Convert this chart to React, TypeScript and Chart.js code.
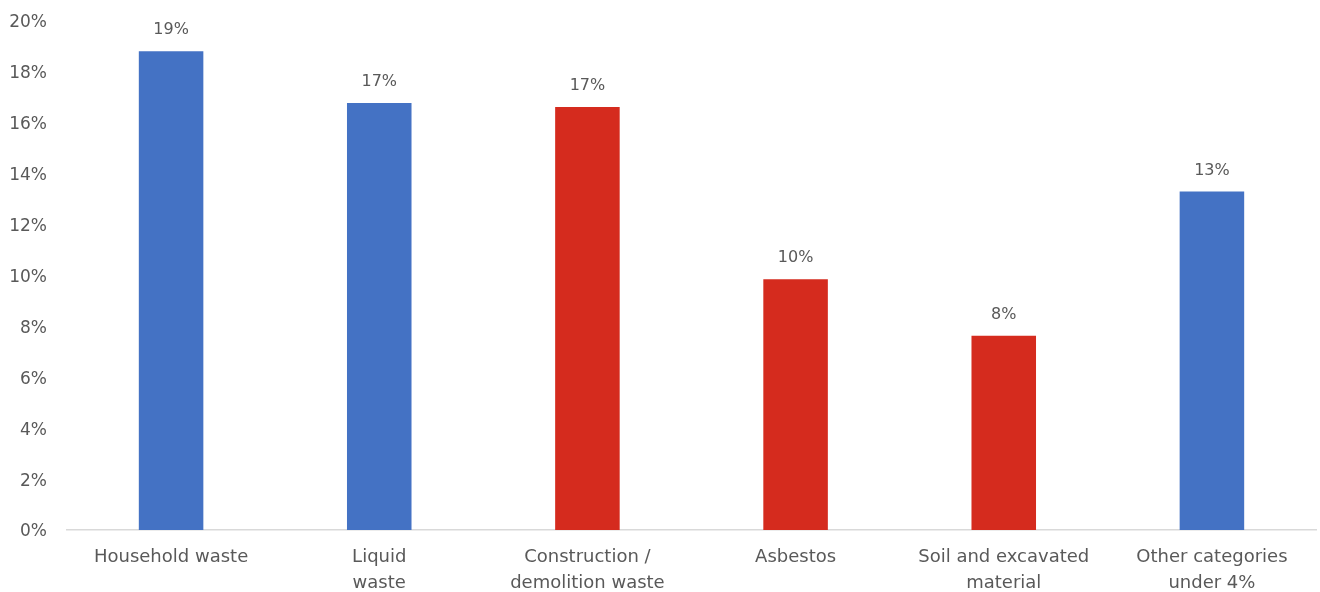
import React, { useEffect, useRef } from "react";
import { Chart, registerables } from "chart.js";

Chart.register(...registerables);

const categories: string[][] = [
  ["Household waste"],
  ["Liquid", "waste"],
  ["Construction /", "demolition waste"],
  ["Asbestos"],
  ["Soil and excavated", "material"],
  ["Other categories", "under 4%"],
];
const values: number[] = [18.81, 16.78, 16.62, 9.85, 7.63, 13.3];
const valueLabels: string[] = ["19%", "17%", "17%", "10%", "8%", "13%"];
const barColors: string[] = ["#4472C4", "#4472C4", "#D52B1E", "#D52B1E", "#D52B1E", "#4472C4"];
const yTicks: number[] = [0, 2, 4, 6, 8, 10, 12, 14, 16, 18, 20];

const FONT = "'DejaVu Sans', sans-serif";
const TEXT = "#595959";

const labelPlugin = {
  id: "valueLabels",
  afterDatasetsDraw(chart: any) {
    const ctx = chart.ctx;
    const meta = chart.getDatasetMeta(0);
    ctx.save();
    ctx.font = `16px ${FONT}`;
    ctx.fillStyle = TEXT;
    ctx.textAlign = "center";
    ctx.textBaseline = "middle";
    meta.data.forEach((bar: any, i: number) => {
      ctx.fillText(valueLabels[i], bar.x, bar.y - 21);
    });
    ctx.restore();
  },
};

export default function App() {
  const ref = useRef<HTMLCanvasElement>(null);
  useEffect(() => {
    document.body.style.margin = "0";
    const chart = new Chart(ref.current!, {
      type: "bar",
      data: {
        labels: categories,
        datasets: [
          {
            data: values,
            backgroundColor: barColors,
            barPercentage: 0.62,
            categoryPercentage: 0.5,
          },
        ],
      },
      options: {
        animation: false,
        responsive: true,
        maintainAspectRatio: false,
        layout: { padding: { top: 21, right: 4, left: 0, bottom: 0 } },
        plugins: { legend: { display: false }, tooltip: { enabled: false } },
        scales: {
          x: {
            grid: { display: false, drawTicks: false },
            border: { display: true, color: "#D9D9D9", width: 1.5 },
            ticks: {
              color: TEXT,
              font: { family: FONT, size: 18, lineHeight: 1.45 },
              padding: 14,
              maxRotation: 0,
              autoSkip: false,
            },
            afterFit: (s: any) => {
              s.height = 62;
              s.paddingLeft = 0;
              s.paddingRight = 0;
            },
          },
          y: {
            min: 0,
            max: 20,
            afterBuildTicks: (s: any) => {
              s.ticks = yTicks.map((v) => ({ value: v }));
            },
            grid: { display: false, drawTicks: false },
            border: { display: false },
            ticks: {
              color: TEXT,
              font: { family: FONT, size: 17 },
              padding: 20,
              labelOffset: 2,
              callback: (v: any) => `${v}%`,
            },
            afterFit: (s: any) => {
              s.width = 67;
              s.paddingTop = 0;
              s.paddingBottom = 0;
            },
          },
        },
      },
      plugins: [labelPlugin],
    });
    return () => chart.destroy();
  }, []);
  return (
    <div style={{ width: 1320, height: 592, position: "relative" }}>
      <canvas ref={ref} />
    </div>
  );
}
